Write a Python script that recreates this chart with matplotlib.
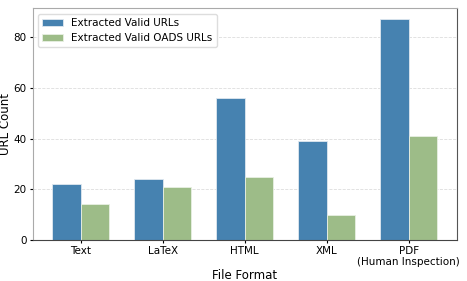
import matplotlib
matplotlib.use("Agg")
import matplotlib.pyplot as plt
import numpy as np

categories = ["Text", "LaTeX", "HTML", "XML", "PDF\n(Human Inspection)"]
valid_urls = [22, 24, 56, 39, 87]
oads_urls = [14, 21, 25, 10, 41]
series_names = ["Extracted Valid URLs", "Extracted Valid OADS URLs"]

fig, ax = plt.subplots(figsize=(4.67, 2.81), dpi=100)
x = np.arange(len(categories))
w = 0.35
ax.bar(x - w/2, valid_urls, w, color="#4682b0", edgecolor="#dfe8ef", linewidth=0.6, label=series_names[0])
ax.bar(x + w/2, oads_urls, w, color="#9dbc88", edgecolor="#e8efe3", linewidth=0.6, label=series_names[1])
ax.set_xticks(x)
ax.set_xticklabels(categories, fontsize=7.5, linespacing=1.05)
ax.tick_params(axis="both", labelsize=7.5, length=2.5, pad=2)
ax.set_ylabel("URL Count", fontsize=8.5, labelpad=1)
ax.set_xlabel("File Format", fontsize=8.5, labelpad=2)
ax.yaxis.grid(True, linestyle="--", color="#dddddd", linewidth=0.6)
ax.set_axisbelow(True)
for s in ["top", "left"]:
    ax.spines[s].set_color("#aaaaaa")
ax.spines["right"].set_color("#555555")
ax.spines["bottom"].set_color("#444444")
ax.legend(loc="upper left", fontsize=7.5, framealpha=1, edgecolor="#dddddd")
fig.subplots_adjust(left=0.07, right=0.978, top=0.97, bottom=0.146)
fig.savefig("out.png", dpi=100)
